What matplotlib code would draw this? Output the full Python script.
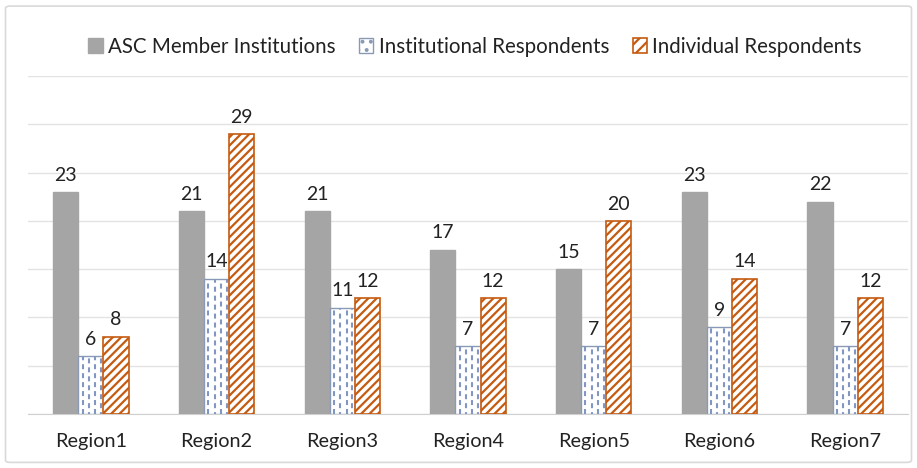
import matplotlib
matplotlib.use("Agg")
import matplotlib.pyplot as plt
import numpy as np
from matplotlib.patches import FancyBboxPatch, Patch

categories = ["Region1", "Region2", "Region3", "Region4", "Region5", "Region6", "Region7"]
members = [23, 21, 21, 17, 15, 23, 22]
institutional = [6, 14, 11, 7, 7, 9, 7]
individual = [8, 29, 12, 12, 20, 14, 12]
series_names = ["ASC Member Institutions", "Institutional Respondents", "Individual Respondents"]

plt.rcParams['font.family'] = ['Lato', 'DejaVu Sans']
plt.rcParams['hatch.linewidth'] = 1.6

fig = plt.figure(figsize=(9.17, 4.68), dpi=100)
ax = fig.add_axes([0.0305, 0.1154, 0.9597, 0.7222])

x = np.arange(len(categories))
w = 0.2
dash_color = "#8196C2"
b1 = ax.bar(x - w, members, w, color="#A5A5A5", edgecolor="#A5A5A5", label=series_names[0], zorder=3)
b2 = ax.bar(x, institutional, w, facecolor="white", edgecolor="#8A9AB5", linewidth=1.0,
            label=series_names[1], zorder=3)
b3 = ax.bar(x + w, individual, w, facecolor="white", edgecolor="#C55A11", hatch="////", linewidth=1.2,
            label=series_names[2], zorder=3)

# vertical dashed pattern inside institutional bars, derived from each bar's geometry
for p in b2.patches:
    x0, wd, h = p.get_x(), p.get_width(), p.get_height()
    for i, f in enumerate([0.17, 0.42, 0.67, 0.9]):
        ln = ax.vlines(x0 + f * wd, 0, h, colors=dash_color, linewidth=1.5,
                       linestyles=[((1.5 if i % 2 else 0), (2.4, 1.9))], zorder=3.5)
        ln.set_clip_path(p)

for bars in (b1, b2, b3):
    ax.bar_label(bars, padding=6, fontsize=14, color="#222222")

ax.set_ylim(0, 35)
ax.set_xlim(-0.5, len(categories) - 0.5)
ax.set_yticks(np.arange(0, 36, 5))
ax.yaxis.grid(True, color="#E3E3E3", linewidth=1, zorder=0)
ax.tick_params(axis="y", left=False, labelleft=False)
ax.tick_params(axis="x", bottom=False, labelsize=14.3, pad=10, colors="#222222")
ax.set_xticks(x)
ax.set_xticklabels(categories)
for s in ("top", "right", "left"):
    ax.spines[s].set_visible(False)
ax.spines["bottom"].set_color("#D0D0D0")
ax.set_axisbelow(True)

handles = [
    Patch(facecolor="#A5A5A5", edgecolor="#A5A5A5"),
    Patch(facecolor="white", edgecolor="#8A9AB5", hatch="..", linewidth=1.0),
    Patch(facecolor="white", edgecolor="#C55A11", hatch="///", linewidth=1.2),
]
leg = fig.legend(handles, series_names, loc="center", bbox_to_anchor=(0.518, 0.9), ncol=3,
                 frameon=False, fontsize=14.8,
                 handlelength=0.7, handleheight=0.7, handletextpad=0.25, columnspacing=1.15)
for t in leg.get_texts():
    t.set_color("#222222")

border = FancyBboxPatch((0.006, 0.012), 0.988, 0.975, boxstyle="round,pad=0,rounding_size=0.005",
                        transform=fig.transFigure, fill=False, edgecolor="#D9D9D9", linewidth=1.2)
fig.patches.append(border)

fig.savefig("out.png", dpi=100)
